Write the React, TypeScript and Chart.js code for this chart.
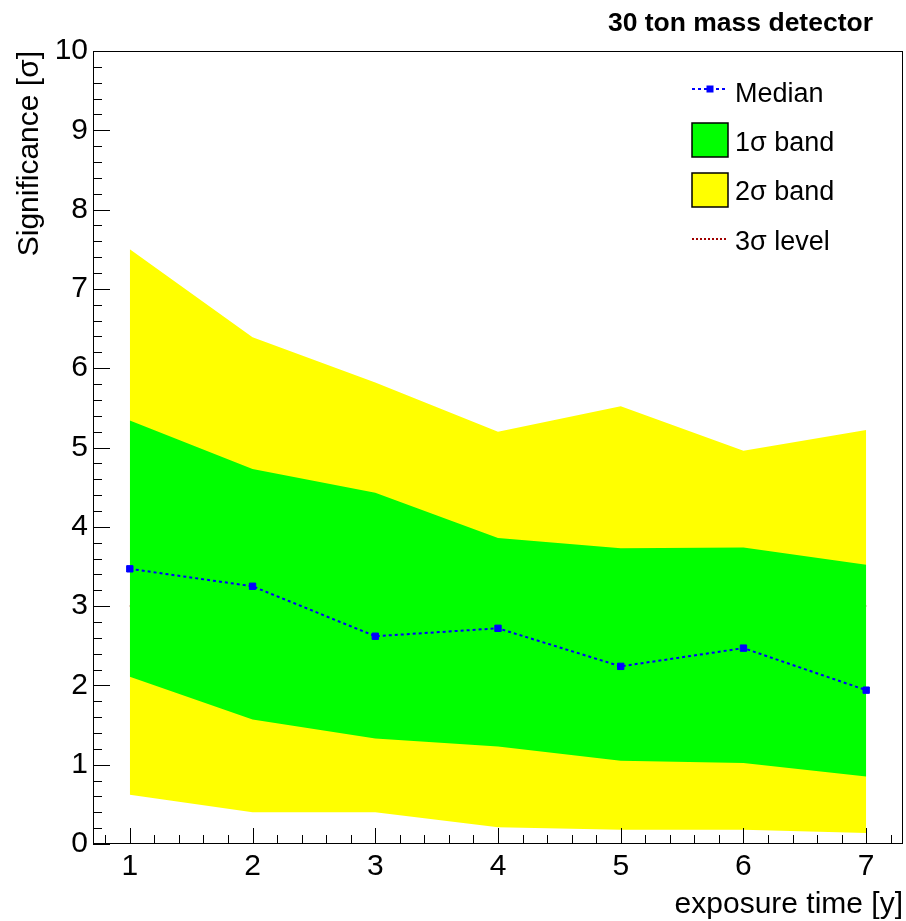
import React, { useEffect, useRef } from "react";
import { Chart, registerables } from "chart.js";

Chart.register(...registerables);

// ---- data ----
const years = [1, 2, 3, 4, 5, 6, 7];
const median = [3.47, 3.25, 2.62, 2.72, 2.24, 2.47, 1.94];
const oneSigmaUp = [5.34, 4.73, 4.43, 3.86, 3.73, 3.74, 3.52];
const oneSigmaLow = [2.11, 1.57, 1.33, 1.23, 1.05, 1.02, 0.85];
const twoSigmaUp = [7.5, 6.39, 5.82, 5.2, 5.52, 4.96, 5.22];
const twoSigmaLow = [0.62, 0.4, 0.4, 0.21, 0.18, 0.18, 0.14];
const threeSigmaLevel = [3, 3, 3, 3, 3, 3, 3];

const xTicks = [1, 2, 3, 4, 5, 6, 7];
const yTicks = [0, 1, 2, 3, 4, 5, 6, 7, 8, 9, 10];

const chartTitle = "30 ton mass detector";
const xTitle = "exposure time [y]";
const yTitle = "Significance [σ]";
const legendLabels = ["Median", "1σ band", "2σ band", "3σ level"];

const FONT = "'Liberation Sans', Arial, Helvetica, sans-serif";
const BLUE = "#0000ff";
const GREEN = "#00ff00";
const YELLOW = "#ffff00";
const DARKRED = "#a00000";

const pts = (ys: number[]) => years.map((x, i) => ({ x, y: ys[i] }));

const rootFramePlugin = {
  id: "rootFrame",
  afterDraw(chart: any) {
    const { ctx, chartArea } = chart;
    const { left, right, top, bottom } = chartArea;
    const xs = chart.scales.x;
    const ys = chart.scales.y;
    ctx.save();
    ctx.strokeStyle = "#000";
    ctx.lineWidth = 1;
    ctx.setLineDash([]);
    ctx.strokeRect(left + 0.5, top + 0.5, right - left - 1, bottom - top - 1);
    // x ticks (inside, upward)
    ctx.beginPath();
    for (let k = Math.ceil(xs.min * 5); k <= Math.floor(xs.max * 5); k++) {
      const v = k / 5;
      const px = Math.round(xs.getPixelForValue(v)) + 0.5;
      const len = k % 5 === 0 ? 16 : 9;
      ctx.moveTo(px, bottom);
      ctx.lineTo(px, bottom - len);
    }
    // y ticks (inside, rightward)
    for (let k = Math.ceil(ys.min * 5); k <= Math.floor(ys.max * 5); k++) {
      const v = k / 5;
      const py = Math.round(ys.getPixelForValue(v)) + 0.5;
      const len = k % 5 === 0 ? 17 : 9;
      ctx.moveTo(left, py);
      ctx.lineTo(left + len, py);
    }
    ctx.stroke();

    // title
    ctx.fillStyle = "#000";
    ctx.font = `bold 26.5px ${FONT}`;
    ctx.textAlign = "right";
    ctx.textBaseline = "alphabetic";
    ctx.fillText(chartTitle, right - 30, 31);

    // legend
    const lx0 = right - 211;
    const lx1 = right - 175;
    const tx = right - 168;
    ctx.font = `27px ${FONT}`;
    ctx.textAlign = "left";
    // Median
    ctx.strokeStyle = BLUE;
    ctx.lineWidth = 2;
    ctx.setLineDash([3, 3]);
    ctx.beginPath();
    ctx.moveTo(lx0, 89);
    ctx.lineTo(lx1, 89);
    ctx.stroke();
    ctx.setLineDash([]);
    ctx.fillStyle = BLUE;
    ctx.fillRect((lx0 + lx1) / 2 - 3.5, 89 - 3.5, 7, 7);
    ctx.fillStyle = "#000";
    ctx.fillText(legendLabels[0], tx, 102);
    // 1 sigma
    ctx.fillStyle = GREEN;
    ctx.fillRect(lx0, 123, lx1 - lx0, 34);
    ctx.strokeStyle = "#000";
    ctx.lineWidth = 1.5;
    ctx.strokeRect(lx0, 123, lx1 - lx0, 34);
    ctx.fillStyle = "#000";
    ctx.fillText(legendLabels[1], tx, 151);
    // 2 sigma
    ctx.fillStyle = YELLOW;
    ctx.fillRect(lx0, 173, lx1 - lx0, 34);
    ctx.strokeRect(lx0, 173, lx1 - lx0, 34);
    ctx.fillStyle = "#000";
    ctx.fillText(legendLabels[2], tx, 199.5);
    // 3 sigma
    ctx.strokeStyle = DARKRED;
    ctx.lineWidth = 2;
    ctx.setLineDash([2, 2]);
    ctx.beginPath();
    ctx.moveTo(lx0, 239);
    ctx.lineTo(lx1, 239);
    ctx.stroke();
    ctx.setLineDash([]);
    ctx.fillStyle = "#000";
    ctx.fillText(legendLabels[3], tx, 249.5);
    ctx.restore();
  },
};

export default function App() {
  const ref = useRef<HTMLCanvasElement | null>(null);
  useEffect(() => {
    if (!ref.current) return;
    const chart = new Chart(ref.current, {
      type: "line",
      data: {
        datasets: [
          {
            label: "Median",
            data: pts(median),
            borderColor: BLUE,
            backgroundColor: BLUE,
            borderWidth: 2,
            borderDash: [3, 3],
            pointStyle: "rect",
            pointRadius: 4.5,
            pointBorderWidth: 1,
            pointBackgroundColor: BLUE,
            pointBorderColor: BLUE,
            fill: false,
            tension: 0,
            order: 1,
          },
          {
            label: "1σ up",
            data: pts(oneSigmaUp),
            borderColor: "transparent",
            borderWidth: 0,
            backgroundColor: GREEN,
            pointRadius: 0,
            fill: "+1",
            tension: 0,
            order: 2,
          },
          {
            label: "1σ low",
            data: pts(oneSigmaLow),
            borderColor: "transparent",
            borderWidth: 0,
            pointRadius: 0,
            fill: false,
            tension: 0,
            order: 2,
          },
          {
            label: "2σ up",
            data: pts(twoSigmaUp),
            borderColor: "transparent",
            borderWidth: 0,
            backgroundColor: YELLOW,
            pointRadius: 0,
            fill: "+1",
            tension: 0,
            order: 3,
          },
          {
            label: "2σ low",
            data: pts(twoSigmaLow),
            borderColor: "transparent",
            borderWidth: 0,
            pointRadius: 0,
            fill: false,
            tension: 0,
            order: 3,
          },
          {
            label: "3σ level",
            data: pts(threeSigmaLevel),
            borderColor: DARKRED,
            borderWidth: 2,
            borderDash: [2, 2],
            pointRadius: 0,
            fill: false,
            tension: 0,
            order: 4,
          },
        ],
      },
      options: {
        animation: false,
        responsive: false,
        maintainAspectRatio: false,
        devicePixelRatio: 1,
        layout: { autoPadding: false, padding: { top: 51, right: 3, left: 0, bottom: 0 } },
        plugins: {
          legend: { display: false },
          tooltip: { enabled: false },
          title: { display: false },
        },
        scales: {
          x: {
            type: "linear",
            min: 0.7,
            max: 7.3,
            afterBuildTicks: (s: any) => {
              s.ticks = xTicks.map((v) => ({ value: v }));
            },
            afterFit: (s: any) => {
              s.height = 77;
              s.paddingRight = 0;
              s.paddingLeft = 0;
            },
            grid: { display: false, drawTicks: false },
            border: { display: false },
            ticks: {
              padding: 5,
              color: "#000",
              font: { family: FONT, size: 30 },
              maxRotation: 0,
              callback: (v: any) => String(v),
            },
            title: {
              display: true,
              text: xTitle,
              align: "end",
              color: "#000",
              font: { family: FONT, size: 30, lineHeight: 1.1 },
              padding: { top: 0, bottom: 0 },
            },
          },
          y: {
            type: "linear",
            min: 0,
            max: 10,
            afterBuildTicks: (s: any) => {
              s.ticks = yTicks.map((v) => ({ value: v }));
            },
            afterFit: (s: any) => {
              s.width = 93;
            },
            grid: { display: false, drawTicks: false },
            border: { display: false },
            ticks: {
              padding: 5,
              color: "#000",
              font: { family: FONT, size: 30 },
              callback: (v: any) => String(v),
            },
            title: {
              display: true,
              text: yTitle,
              align: "end",
              color: "#000",
              font: { family: FONT, size: 30, lineHeight: 1.2 },
              padding: { top: 12, bottom: 0 },
            },
          },
        },
      },
      plugins: [rootFramePlugin],
    } as any);
    return () => chart.destroy();
  }, []);

  return (
    <div style={{ position: "absolute", left: 0, top: 0, width: 906, height: 921, background: "#fff" }}>
      <canvas ref={ref} width={906} height={921} style={{ width: 906, height: 921, display: "block" }} />
    </div>
  );
}
